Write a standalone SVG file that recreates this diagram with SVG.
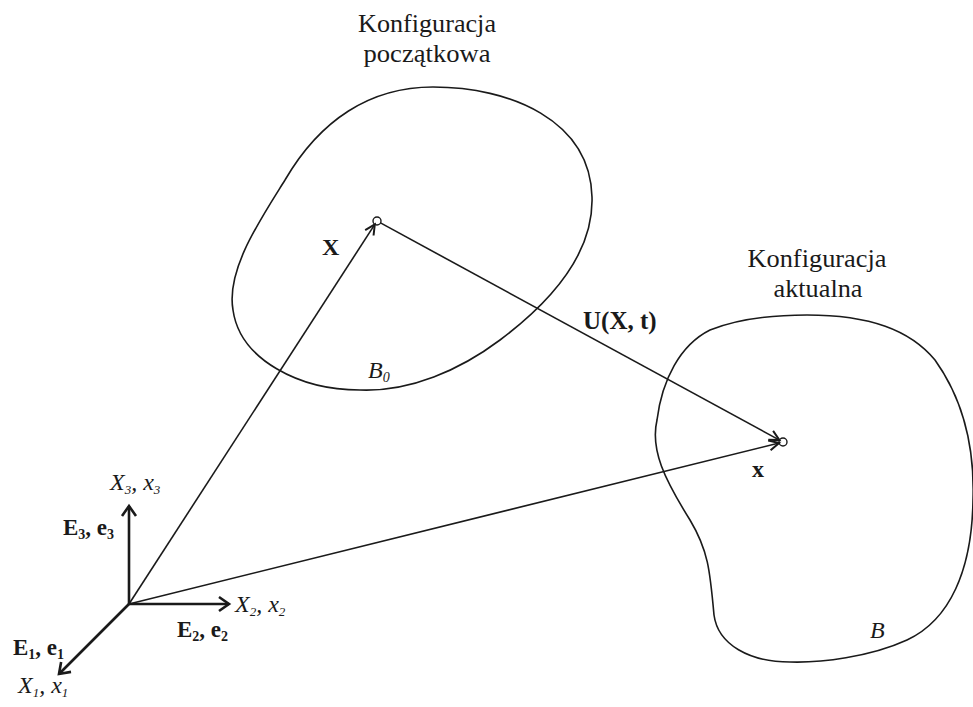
<svg xmlns="http://www.w3.org/2000/svg" width="973" height="707" viewBox="0 0 973 707">
<style>
.t{font-family:"Liberation Serif","Times New Roman",serif;fill:#1a1a1a}
.b{font-weight:bold}
.i{font-style:italic}
.blob{fill:none;stroke:#1a1a1a;stroke-width:1.6}
.vec{stroke:#1a1a1a;stroke-width:1.6;fill:none}
.ax{stroke:#1a1a1a;stroke-width:2.6;fill:none}
</style>
<defs>
<marker id="ah" viewBox="-13 -8 16 16" refX="0" refY="0" markerWidth="16" markerHeight="16" markerUnits="userSpaceOnUse" orient="auto">
<path d="M-10,-5 L0,0 L-10,5" fill="none" stroke="#1a1a1a" stroke-width="2"/>
</marker>
<marker id="aa" viewBox="-14 -10 18 20" refX="0" refY="0" markerWidth="18" markerHeight="20" markerUnits="userSpaceOnUse" orient="auto">
<path d="M-10,-7 L0,0 L-10,7" fill="none" stroke="#1a1a1a" stroke-width="2.6"/>
</marker>
</defs>
<rect width="973" height="707" fill="#ffffff"/>

<g id="body-initial">
<path class="blob" d="M433,87 C510,87 590,120 592,197 C594,260 540,310 500,340 C460,370 410,392 360,390 C300,390 240,360 233,310 C226,270 260,220 285,180 C320,120 370,87 433,87 Z"/>
<text class="t i" x="368" y="378" font-size="24">B<tspan font-size="14" dy="4">0</tspan></text>
</g>
<g id="label-initial">
<text class="t" x="427" y="32" font-size="25" text-anchor="middle" textLength="138" lengthAdjust="spacingAndGlyphs">Konfiguracja</text>
<text class="t" x="427" y="62" font-size="25" text-anchor="middle" textLength="127" lengthAdjust="spacingAndGlyphs">początkowa</text>
</g>

<g id="body-current">
<path class="blob" d="M807,315 C870,315 910,330 935,360 C960,395 975,440 973,500 C972,570 950,620 907,640 C870,657 820,663 790,662 C750,662 718,645 714,615 C710,570 708,550 690,520 C665,480 650,450 657,420 C662,380 680,345 710,330 C740,318 780,315 807,315 Z"/>
<text class="t i" x="870" y="638" font-size="24">B</text>
</g>
<g id="label-current">
<text class="t" x="817" y="267" font-size="25" text-anchor="middle" textLength="139" lengthAdjust="spacingAndGlyphs">Konfiguracja</text>
<text class="t" x="818" y="297" font-size="25" text-anchor="middle" textLength="89" lengthAdjust="spacingAndGlyphs">aktualna</text>
</g>

<g id="point-initial">
<circle cx="377" cy="221" r="4" fill="#fff" stroke="#1a1a1a" stroke-width="1.4"/>
</g>
<g id="point-current">
<circle cx="783" cy="442" r="4" fill="#fff" stroke="#1a1a1a" stroke-width="1.4"/>
</g>

<g id="connectors">
<line class="vec" x1="129" y1="604" x2="374.8" y2="224.4" marker-end="url(#ah)"/>
<line class="vec" x1="380.5" y1="222.9" x2="779.5" y2="440.1" marker-end="url(#ah)"/>
<line class="vec" x1="129" y1="604" x2="779.1" y2="443" marker-end="url(#ah)"/>
<line class="ax" x1="129" y1="604" x2="129" y2="506" marker-end="url(#aa)"/>
<line class="ax" x1="129" y1="604" x2="229" y2="604" marker-end="url(#aa)"/>
<line class="ax" x1="129" y1="604" x2="59" y2="674" marker-end="url(#aa)"/>
</g>

<g id="vector-labels">
<text class="t b" x="322" y="255" font-size="24">X</text>
<text class="t b" x="583" y="329" font-size="25">U(X, t)</text>
<text class="t b" x="752" y="477" font-size="24">x</text>
</g>

<g id="axis-labels">
<text class="t i" x="110" y="490" font-size="24">X<tspan font-size="13" dy="4">3</tspan><tspan dy="-4">, x</tspan><tspan font-size="13" dy="4">3</tspan></text>
<text class="t b" x="63" y="535" font-size="23">E<tspan font-size="14" dy="4">3</tspan><tspan dy="-4">, e</tspan><tspan font-size="14" dy="4">3</tspan></text>
<text class="t i" x="235" y="612" font-size="24">X<tspan font-size="13" dy="4">2</tspan><tspan dy="-4">, x</tspan><tspan font-size="13" dy="4">2</tspan></text>
<text class="t b" x="177" y="637" font-size="23">E<tspan font-size="14" dy="4">2</tspan><tspan dy="-4">, e</tspan><tspan font-size="14" dy="4">2</tspan></text>
<text class="t b" x="13" y="655" font-size="23">E<tspan font-size="14" dy="4">1</tspan><tspan dy="-4">, e</tspan><tspan font-size="14" dy="4">1</tspan></text>
<text class="t i" x="18" y="693" font-size="24">X<tspan font-size="13" dy="4">1</tspan><tspan dy="-4">, x</tspan><tspan font-size="13" dy="4">1</tspan></text>
</g>
</svg>
